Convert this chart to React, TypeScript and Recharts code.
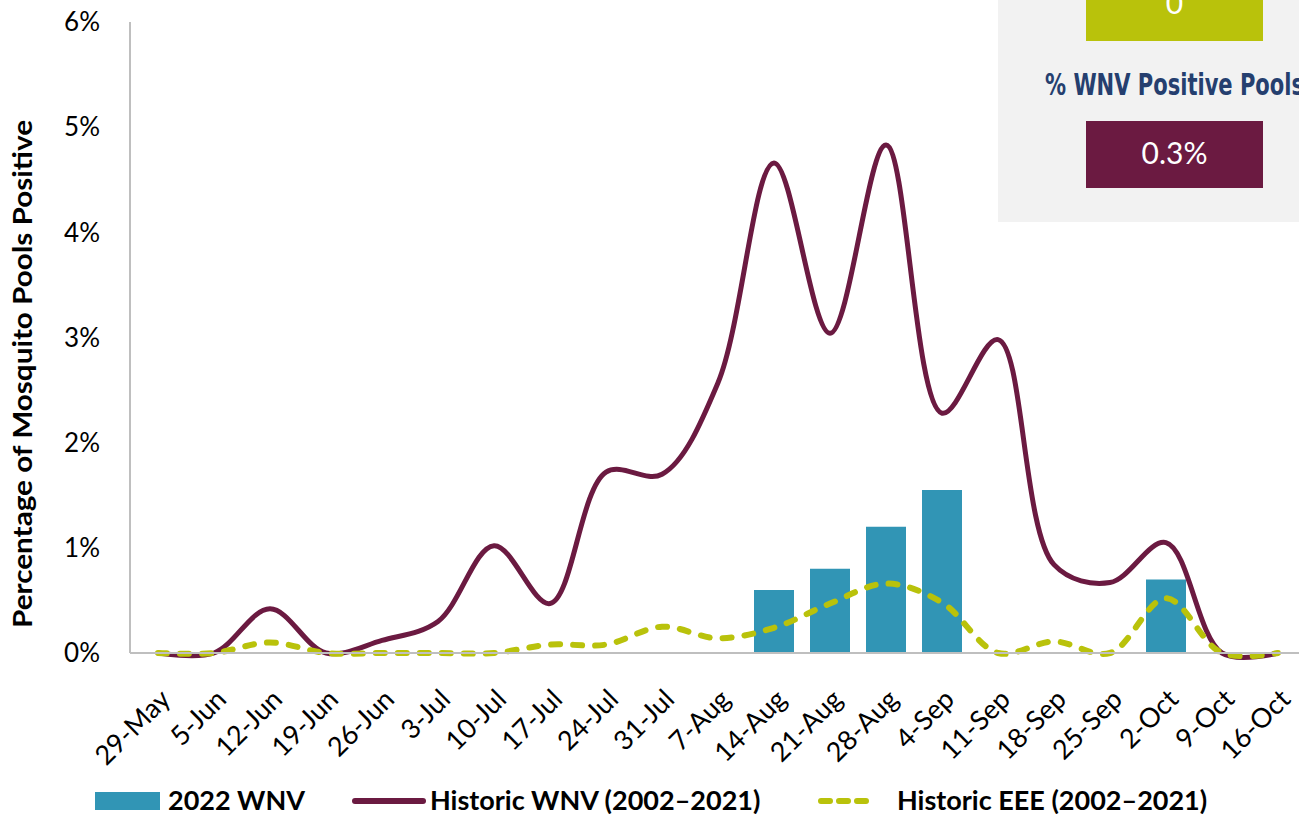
import React from "react";
import { ComposedChart, Bar, Line, XAxis, YAxis } from "recharts";

const weeks = [
  "29-May", "5-Jun", "12-Jun", "19-Jun", "26-Jun", "3-Jul", "10-Jul", "17-Jul", "24-Jul", "31-Jul",
  "7-Aug", "14-Aug", "21-Aug", "28-Aug", "4-Sep", "11-Sep", "18-Sep", "25-Sep", "2-Oct", "9-Oct", "16-Oct",
];
const wnv2022: (number | null)[] = [
  null, null, null, null, null, null, null, null, null, null,
  null, 0.6, 0.8, 1.2, 1.55, null, null, null, 0.7, null, null,
];
const historicWnv = [
  0, 0, 0.42, 0, 0.12, 0.3, 1.02, 0.47, 1.72, 1.7,
  2.57, 4.66, 3.04, 4.83, 2.28, 2.98, 0.84, 0.67, 1.05, 0, 0,
];
const historicEee = [
  0, 0, 0.1, 0, 0, 0, 0, 0.08, 0.08, 0.25,
  0.14, 0.24, 0.47, 0.66, 0.48, 0, 0.11, 0, 0.52, 0, 0,
];
const yTicks = [0, 1, 2, 3, 4, 5, 6];

const data = weeks.map((w, i) => ({
  week: w,
  wnv2022: wnv2022[i],
  historicWnv: historicWnv[i],
  historicEee: historicEee[i],
}));

const BLUE = "#3195b5";
const MAROON = "#6b1a41";
const GREEN = "#b9c20b";
const FONT = "Lato, 'Open Sans', sans-serif";

// Centripetal Catmull-Rom smoothing (close to Excel's smoothed line)
const smoothCurve: any = (context: any) => {
  let pts: number[][] = [];
  const alpha = 0.5;
  const eps = 1e-12;
  return {
    areaStart() {},
    areaEnd() {},
    lineStart() {
      pts = [];
    },
    point(x: number, y: number) {
      pts.push([+x, +y]);
    },
    lineEnd() {
      const n = pts.length;
      if (!n) return;
      context.moveTo(pts[0][0], pts[0][1]);
      for (let i = 0; i < n - 1; i++) {
        const p0 = pts[i - 1] || pts[i];
        const p1 = pts[i];
        const p2 = pts[i + 1];
        const p3 = pts[i + 2] || p2;
        const d01 = Math.hypot(p1[0] - p0[0], p1[1] - p0[1]);
        const d12 = Math.hypot(p2[0] - p1[0], p2[1] - p1[1]);
        const d23 = Math.hypot(p3[0] - p2[0], p3[1] - p2[1]);
        const l01a = Math.pow(d01, alpha), l01_2a = Math.pow(d01, 2 * alpha);
        const l12a = Math.pow(d12, alpha), l12_2a = Math.pow(d12, 2 * alpha);
        const l23a = Math.pow(d23, alpha), l23_2a = Math.pow(d23, 2 * alpha);
        let x1 = p1[0], y1 = p1[1], x2 = p2[0], y2 = p2[1];
        if (l01a > eps) {
          const a = 2 * l01_2a + 3 * l01a * l12a + l12_2a;
          const m = 3 * l01a * (l01a + l12a);
          x1 = (p1[0] * a - p0[0] * l12_2a + p2[0] * l01_2a) / m;
          y1 = (p1[1] * a - p0[1] * l12_2a + p2[1] * l01_2a) / m;
        }
        if (l23a > eps) {
          const b = 2 * l23_2a + 3 * l23a * l12a + l12_2a;
          const m = 3 * l23a * (l23a + l12a);
          x2 = (p2[0] * b + p1[0] * l23_2a - p3[0] * l12_2a) / m;
          y2 = (p2[1] * b + p1[1] * l23_2a - p3[1] * l12_2a) / m;
        }
        context.bezierCurveTo(x1, y1, x2, y2, p2[0], p2[1]);
      }
    },
  };
};

const XTick = (props: any) => {
  const { x, y, payload } = props;
  const bx = x + 14;
  const by = y + 48;
  return (
    <text
      x={bx}
      y={by}
      textAnchor="end"
      transform={`rotate(-45 ${bx} ${by})`}
      fontFamily={FONT}
      fontSize={27}
      fill="#000"
    >
      {payload.value}
    </text>
  );
};

const Overlay = () => (
  <svg
    width={1299}
    height={814}
    style={{ position: "absolute", left: 0, top: 0, pointerEvents: "none" }}
  >
    {/* Y axis title */}
    <text
      x={32}
      y={374}
      transform="rotate(-90 32 374)"
      textAnchor="middle"
      fontFamily={FONT}
      fontWeight={700}
      fontSize={27}
      textLength={508}
      lengthAdjust="spacingAndGlyphs"
      fill="#000"
    >
      Percentage of Mosquito Pools Positive
    </text>

    {/* Info box */}
    <rect x={998} y={0} width={320} height={222} fill="#f2f2f2" />
    <rect x={1086} y={-10} width={177} height={51} fill={GREEN} />
    <text x={1174.5} y={14} textAnchor="middle" fontFamily={FONT} fontSize={30} fill="#fff">
      0
    </text>
    <text
      x={1174.5}
      y={95}
      textAnchor="middle"
      fontFamily="'Liberation Sans Narrow', 'DejaVu Sans Condensed', sans-serif"
      fontWeight={700}
      fontSize={30}
      textLength={259}
      lengthAdjust="spacingAndGlyphs"
      fill="#253f6f"
    >
      % WNV Positive Pools
    </text>
    <rect x={1086} y={121} width={177} height={67} fill={MAROON} />
    <text x={1174.5} y={164} textAnchor="middle" fontFamily={FONT} fontSize={30} fill="#fff">
      0.3%
    </text>

    {/* Legend */}
    <rect x={95} y={792} width={65} height={18} fill={BLUE} />
    <text x={168} y={810} fontFamily={FONT} fontWeight={700} fontSize={27} fill="#000">
      2022 WNV
    </text>
    <line x1={355} y1={801} x2={423} y2={801} stroke={MAROON} strokeWidth={6} strokeLinecap="round" />
    <text x={430} y={810} fontFamily={FONT} fontWeight={700} fontSize={27} fill="#000">
      Historic WNV (2002–2021)
    </text>
    <line
      x1={821}
      y1={801}
      x2={866}
      y2={801}
      stroke={GREEN}
      strokeWidth={6}
      strokeLinecap="round"
      strokeDasharray="9 9"
    />
    <text x={897} y={810} fontFamily={FONT} fontWeight={700} fontSize={27} fill="#000">
      Historic EEE (2002–2021)
    </text>
  </svg>
);

export default function App() {
  return (
    <div
      style={{
        position: "absolute",
        left: 0,
        top: 0,
        width: 1299,
        height: 814,
        overflow: "hidden",
        background: "#fff",
      }}
    >
      <ComposedChart
        width={1310}
        height={814}
        data={data}
        margin={{ top: 22, right: 4, bottom: 0, left: 0 }}
      >
        <XAxis
          dataKey="week"
          interval={0}
          height={161}
          tickLine={false}
          tickSize={0}
          tickMargin={0}
          axisLine={{ stroke: "#bfbfbf", strokeWidth: 2 }}
          tick={<XTick />}
        />
        <YAxis
          width={130}
          domain={[0, 6]}
          ticks={yTicks}
          tickFormatter={(v: number) => `${v}%`}
          tickLine={false}
          tickSize={0}
          tickMargin={30}
          axisLine={{ stroke: "#bfbfbf", strokeWidth: 2 }}
          tick={{ fontFamily: FONT, fontSize: 26, fill: "#000" }}
        />
        <Bar dataKey="wnv2022" fill={BLUE} barSize={40} isAnimationActive={false} />
        <Line
          dataKey="historicWnv"
          type={smoothCurve}
          stroke={MAROON}
          strokeWidth={5}
          dot={false}
          isAnimationActive={false}
        />
        <Line
          dataKey="historicEee"
          type={smoothCurve}
          stroke={GREEN}
          strokeWidth={6}
          strokeLinecap="round"
          strokeDasharray="9 13"
          dot={false}
          isAnimationActive={false}
        />
      </ComposedChart>
      <Overlay />
    </div>
  );
}
